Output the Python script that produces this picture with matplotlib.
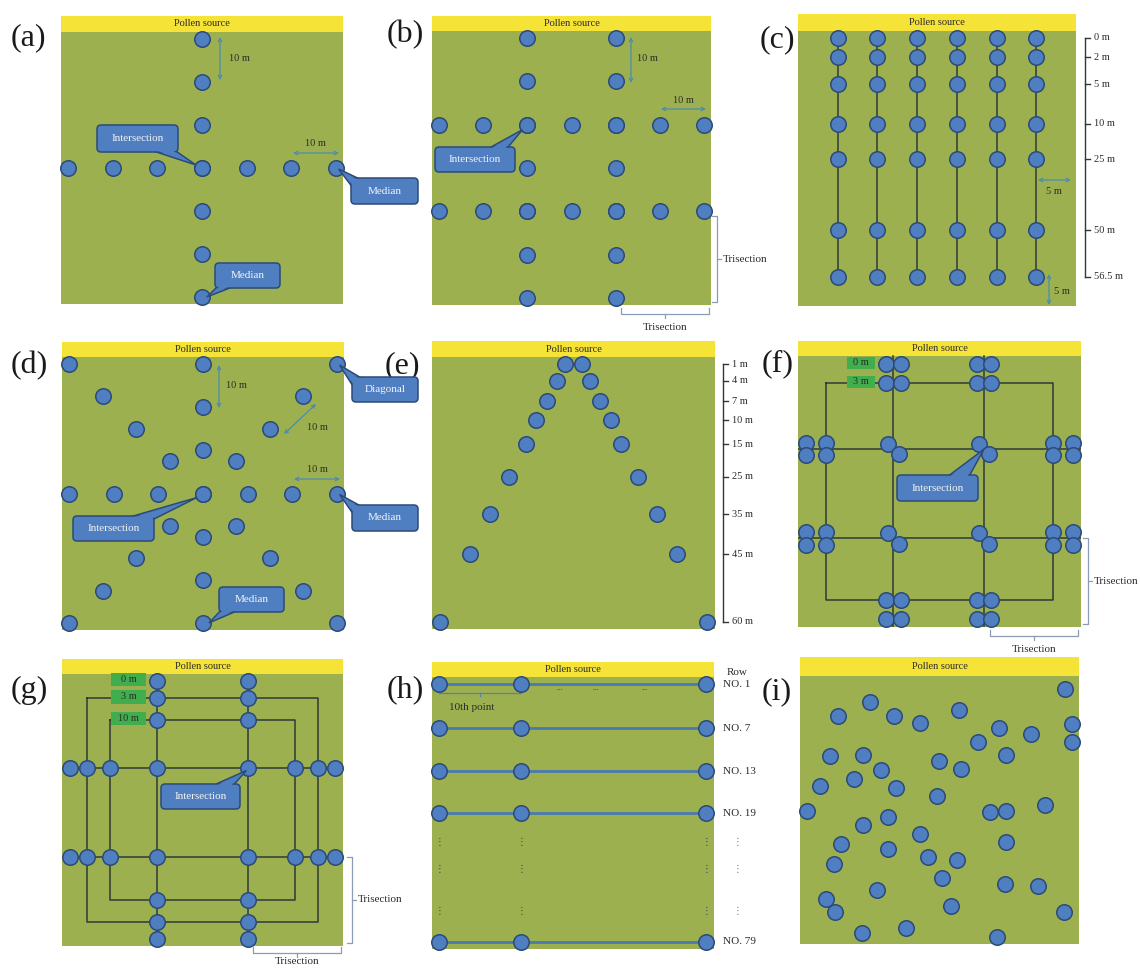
import numpy as np
import matplotlib.pyplot as plt
from matplotlib.patches import Rectangle, FancyBboxPatch, Polygon
from matplotlib.transforms import blended_transform_factory

plt.rcParams['font.family'] = ['Liberation Serif', 'DejaVu Serif', 'DejaVu Sans']

FW, FH = 1140, 969

FIELD = '#9db050'
SOURCE = '#f6e338'
DOT = '#4f7fc0'
DOT_EDGE = '#2c4a78'
WIRE = '#2f3a38'
ROW_LINE = '#4a78b0'
ARROW = '#4a8cb0'
BRACKET = '#8c9db3'
TAG = '#40ae4c'
INK = '#2b2b2b'

# ---- sampling layouts ----
# (a), (b), (d): 10 m grid, metres from the upper-left corner of the field
grid_m = [0, 10, 20, 30, 40, 50, 60]
centre_m = 30
b_lines_m = [20, 40]
d_diag_m = [0, 7.5, 15, 22.5]

# (c): six transects 5 m apart, sampled at fixed distances from the source
c_cols_m = [5, 10, 15, 20, 25, 30]
c_depths = ['0 m', '2 m', '5 m', '10 m', '25 m', '50 m', '56.5 m']
c_depth_pos = [0.024, 0.096, 0.194, 0.338, 0.467, 0.724, 0.893]

# (e): V-shaped pairs opening away from the source
e_dists = ['1 m', '4 m', '7 m', '10 m', '15 m', '25 m', '35 m', '45 m', '60 m']
e_row_pos = [0.026, 0.088, 0.162, 0.232, 0.32, 0.44, 0.578, 0.725, 0.973]
e_half_width = [0.031, 0.058, 0.095, 0.133, 0.168, 0.229, 0.296, 0.367, 0.473]

# (f): trisection lines, paired samples at 0 m and 3 m from the edge
f_tri_x = [0.337, 0.657]
f_tri_y = [0.344, 0.673]
f_rings = ['0 m', '3 m']
f_ring_pos = [0.029, 0.099]

# (g): trisection lines, samples at 0 m, 3 m and 10 m from the edge
g_tri_x = [0.339, 0.663]
g_tri_y = [0.344, 0.674]
g_rings = ['0 m', '3 m', '10 m']
g_ring_pos = [0.027, 0.09, 0.17]

# (h): every 10th point on selected rows
h_rows = ['NO. 1', 'NO. 7', 'NO. 13', 'NO. 19', 'NO. 79']
h_row_pos = [0.026, 0.189, 0.346, 0.501, 0.973]
h_point_pos = [0.026, 0.316, 0.972]
h_skip_pos = [0.606, 0.707, 0.859]

# (i): random sampling
i_x = [0.951, 0.251, 0.571, 0.137, 0.337, 0.431, 0.974, 0.713, 0.827, 0.637,
       0.974, 0.109, 0.225, 0.737, 0.498, 0.289, 0.577, 0.195, 0.071, 0.345,
       0.491, 0.878, 0.024, 0.680, 0.738, 0.314, 0.225, 0.431, 0.146, 0.738,
       0.314, 0.460, 0.564, 0.121, 0.510, 0.736, 0.852, 0.275, 0.094, 0.127,
       0.540, 0.945, 0.221, 0.381, 0.706]
i_y = [0.049, 0.098, 0.127, 0.148, 0.148, 0.177, 0.180, 0.193, 0.218, 0.247,
       0.247, 0.299, 0.296, 0.296, 0.317, 0.351, 0.348, 0.386, 0.409, 0.417,
       0.447, 0.481, 0.504, 0.507, 0.504, 0.525, 0.555, 0.590, 0.626, 0.618,
       0.644, 0.674, 0.687, 0.703, 0.753, 0.776, 0.782, 0.800, 0.831, 0.879,
       0.857, 0.882, 0.960, 0.941, 0.975]

# panel frames in pixels: left, top, right, bottom, bottom of the source bar
BOX = {
    'a': (61, 16, 343, 304, 32),
    'b': (432, 16, 711, 305, 31),
    'c': (798, 14, 1076, 306, 31),
    'd': (62, 342, 344, 630, 357),
    'e': (432, 341, 715, 629, 357),
    'f': (798, 341, 1081, 627, 356),
    'g': (62, 659, 343, 946, 674),
    'h': (432, 662, 714, 949, 677),
    'i': (800, 657, 1079, 944, 676),
}

fig = plt.figure(figsize=(FW / 100, FH / 100), dpi=100)
fig.patch.set_facecolor('white')


def panel(key, xr=(0, 1), yr=(0, 1)):
    left, top, right, bottom, bar = BOX[key]
    ax = fig.add_axes([left / FW, 1 - bottom / FH, (right - left) / FW, (bottom - top) / FH])
    ax.set_axis_off()
    x0, x1 = xr
    y0, y1 = yr
    bar_h = (y1 - y0) * (bar - top) / (bottom - bar)
    ax.set_xlim(x0, x1)
    ax.set_ylim(y1, y0 - bar_h)
    ax.add_patch(Rectangle((x0, y0), x1 - x0, y1 - y0, fc=FIELD, ec='none', zorder=0))
    ax.add_patch(Rectangle((x0, y0 - bar_h), x1 - x0, bar_h, fc=SOURCE, ec='none', zorder=0))
    ax.text((x0 + x1) / 2, y0 - bar_h / 2, 'Pollen source', ha='center', va='center',
            fontsize=7.5, color=INK, zorder=1)
    return ax


def dots(ax, x, y):
    ax.scatter(x, y, s=124, fc=DOT, ec=DOT_EDGE, lw=1.1, zorder=4, clip_on=False)


def tag(ax, text, xc, yc, w, h):
    ax.add_patch(Rectangle((xc - w / 2, yc - h / 2), w, h, fc=TAG, ec='none', zorder=5))
    ax.text(xc, yc, text, ha='center', va='center', fontsize=7.5, color=INK, zorder=6)


grid_span = (-1.65, 61.65)

# (a) cross
ax_a = panel('a', grid_span, grid_span)
dots(ax_a, [centre_m] * len(grid_m), grid_m)
dots(ax_a, grid_m, [centre_m] * len(grid_m))

# (b) trisection grid
ax_b = panel('b', grid_span, grid_span)
for m in b_lines_m:
    dots(ax_b, [m] * len(grid_m), grid_m)
    dots(ax_b, grid_m, [m] * len(grid_m))

# (c) parallel transects
ax_c = panel('c', (0, 35), (0, 1))
for x in c_cols_m:
    ax_c.plot([x, x], [c_depth_pos[0], c_depth_pos[-1]], color=WIRE, lw=1.1, zorder=2)
    dots(ax_c, [x] * len(c_depth_pos), c_depth_pos)

# (d) cross plus diagonals
ax_d = panel('d', grid_span, grid_span)
dots(ax_d, [centre_m] * len(grid_m), grid_m)
dots(ax_d, grid_m, [centre_m] * len(grid_m))
far = grid_m[-1]
for s in d_diag_m:
    dots(ax_d, [s, far - s, s, far - s], [s, s, far - s, far - s])

# (e) V shape
ax_e = panel('e')
dots(ax_e, [0.5 - w for w in e_half_width] + [0.5 + w for w in e_half_width], e_row_pos * 2)

# (f) trisection with paired edge samples
ax_f = panel('f')
for x in f_tri_x:
    ax_f.plot([x, x], [0, 1], color=WIRE, lw=1.1, zorder=2)
for y in f_tri_y:
    ax_f.plot([0, 1], [y, y], color=WIRE, lw=1.1, zorder=2)
r = f_ring_pos[1]
ax_f.plot([r, 1 - r, 1 - r, r, r], [r, r, 1 - r, 1 - r, r], color=WIRE, lw=1.1, zorder=2)
sep_x, sep_y, sep_d = 0.026, 0.023, 0.019
for x in f_tri_x:
    for d in f_ring_pos:
        for y in (d, 1 - d):
            dots(ax_f, [x - sep_x, x + sep_x], [y, y])
for y in f_tri_y:
    for d in f_ring_pos:
        for x in (d, 1 - d):
            dots(ax_f, [x, x], [y - sep_y, y + sep_y])
for x in f_tri_x:
    for y in f_tri_y:
        dots(ax_f, [x - sep_d, x + sep_d], [y - sep_d, y + sep_d])
for lab, d in zip(f_rings, f_ring_pos):
    tag(ax_f, lab, 0.223, d - 0.004, 0.098, 0.045)

# (g) trisection with nested rings
ax_g = panel('g')
for x in g_tri_x:
    ax_g.plot([x, x], [0, 1], color=WIRE, lw=1.1, zorder=2)
for y in g_tri_y:
    ax_g.plot([0, 1], [y, y], color=WIRE, lw=1.1, zorder=2)
for r in g_ring_pos[1:]:
    ax_g.plot([r, 1 - r, 1 - r, r, r], [r, r, 1 - r, 1 - r, r], color=WIRE, lw=1.1, zorder=2)
edge_pos = g_ring_pos + [1 - d for d in reversed(g_ring_pos)]
for x in g_tri_x:
    dots(ax_g, [x] * len(edge_pos), edge_pos)
for y in g_tri_y:
    dots(ax_g, edge_pos, [y] * len(edge_pos))
for x in g_tri_x:
    dots(ax_g, [x, x], g_tri_y)
for lab, d in zip(g_rings, g_ring_pos):
    tag(ax_g, lab, 0.237, d - 0.006, 0.127, 0.049)

# (h) rows
ax_h = panel('h')
for y in h_row_pos:
    ax_h.plot([h_point_pos[0], h_point_pos[-1]], [y, y], color=ROW_LINE, lw=2, zorder=2)
    dots(ax_h, h_point_pos, [y] * len(h_point_pos))
for lab, y in zip(h_rows, h_row_pos):
    ax_h.text(1.032, y, lab, ha='left', va='center', fontsize=8, color=INK, clip_on=False)
ax_h.text(1.045, -0.016, 'Row', ha='left', va='center', fontsize=8, color=INK, clip_on=False)
for y in h_skip_pos:
    for x in h_point_pos:
        ax_h.text(x, y, '⋮', ha='center', va='center', fontsize=7, color='#34465a',
                  family=['DejaVu Sans'])
    ax_h.text(1.085, y, '⋮', ha='center', va='center', fontsize=7, color='#777777',
              family=['DejaVu Sans'], clip_on=False)
for x in [0.454, 0.582, 0.755]:
    ax_h.text(x, h_row_pos[0] + 0.014, '...', ha='center', va='center', fontsize=6,
              color='#34465a')
b0, b1 = h_point_pos[0], h_point_pos[1]
yb = h_row_pos[0] + 0.022
ax_h.plot([b0, b0, b1, b1], [yb, yb + 0.012, yb + 0.012, yb], color='#5a7fa8', lw=0.9, zorder=3)
ax_h.plot([(b0 + b1) / 2] * 2, [yb + 0.012, yb + 0.022], color='#5a7fa8', lw=0.9, zorder=3)
ax_h.text(0.141, 0.113, '10th point', ha='center', va='center', fontsize=8, color=INK)

# (i) random
ax_i = panel('i')
dots(ax_i, i_x, i_y)

# ---- overlay for labels, arrows, brackets and callouts (pixel units) ----
ov = fig.add_axes([0, 0, 1, 1])
ov.set_xlim(0, FW)
ov.set_ylim(FH, 0)
ov.set_axis_off()


def px(ax, x, y):
    disp = ax.transData.transform((x, y))
    return ov.transData.inverted().transform(disp)


def inset(tri, d):
    p = np.array(tri, float)
    c = p.mean(axis=0)
    lines = []
    for k in range(3):
        a, b = p[k], p[(k + 1) % 3]
        t = (b - a) / np.linalg.norm(b - a)
        n = np.array([-t[1], t[0]])
        if np.dot(c - a, n) < 0:
            n = -n
        lines.append((a + n * d, t))
    pts = []
    for k in range(3):
        (a1, t1), (a2, t2) = lines[k - 1], lines[k]
        s, _ = np.linalg.solve(np.array([t1, -t2]).T, a2 - a1)
        pts.append(a1 + s * t1)
    return pts


def callout(text, box, base, tip):
    x0, y0, x1, y1 = box
    wedge = [base[0], base[1], tuple(tip)]
    ov.add_patch(Polygon(wedge, closed=True, fc=DOT, ec=DOT_EDGE, lw=1.1, zorder=5))
    ov.add_patch(FancyBboxPatch((x0, y0), x1 - x0, y1 - y0,
                                boxstyle='round,pad=0,rounding_size=4',
                                fc=DOT, ec=DOT_EDGE, lw=1.1, zorder=6))
    ov.add_patch(Polygon(inset(wedge, 1.4), closed=True, fc=DOT, ec='none', zorder=7))
    ov.text((x0 + x1) / 2, (y0 + y1) / 2, text, ha='center', va='center',
            fontsize=8, color='#f4f4f4', zorder=8)


def span_arrow(p0, p1):
    ov.annotate('', xy=p1, xytext=p0,
                arrowprops=dict(arrowstyle='<->', color=ARROW, lw=0.9,
                                mutation_scale=6, shrinkA=0, shrinkB=0))


def label(x, y, text, ha='center', size=7.5):
    ov.text(x, y, text, ha=ha, va='center', fontsize=size, color=INK)


def bracket_right(x, y0, y1, text):
    ov.plot([x - 5, x, x, x - 5], [y0, y0, y1, y1], color=BRACKET, lw=0.9)
    ym = (y0 + y1) / 2
    ov.plot([x, x + 4], [ym, ym], color=BRACKET, lw=0.9)
    label(x + 6, ym, text, ha='left', size=8)


def bracket_down(y, x0, x1, text, gap=13):
    ov.plot([x0, x0, x1, x1], [y - 6, y, y, y - 6], color=BRACKET, lw=0.9)
    xm = (x0 + x1) / 2
    ov.plot([xm, xm], [y, y + 4], color=BRACKET, lw=0.9)
    label(xm, y + gap, text, size=8)


# panel letters
for key, (x, y) in {'a': (11, 38), 'b': (387, 35), 'c': (760, 40), 'd': (11, 366),
                    'e': (385, 366), 'f': (762, 364), 'g': (11, 690), 'h': (387, 690),
                    'i': (762, 692)}.items():
    ov.text(x, y, f'({key})', ha='left', va='center', fontsize=23, color='#1a1a1a')

# distance arrows
span_arrow((220, 37), (220, 80))
label(239, 58, '10 m')
span_arrow((293, 153), (339, 153))
label(315, 143, '10 m')

span_arrow((631, 37), (631, 83))
label(647, 58, '10 m')
span_arrow((661, 109), (706, 109))
label(683, 100, '10 m')

span_arrow((1038, 180), (1071, 180))
label(1054, 191, '5 m')
span_arrow((1049, 274), (1049, 305))
label(1062, 292, '5 m')

span_arrow((219, 365), (219, 408))
label(236, 386, '10 m')
span_arrow((284, 434), (316, 404))
label(317, 427, '10 m')
span_arrow((294, 479), (340, 479))
label(317, 469, '10 m')

# distance scales beside (c) and (e)
for ax, xs, pos, labs in [(ax_c, 1085, c_depth_pos, c_depths), (ax_e, 723, e_row_pos, e_dists)]:
    tr = blended_transform_factory(ov.transData, ax.transData)
    ov.plot([xs, xs], [pos[0], pos[-1]], transform=tr, color=WIRE, lw=1.0)
    for y, lab in zip(pos, labs):
        ov.plot([xs, xs + 5], [y, y], transform=tr, color=WIRE, lw=1.0)
        ov.text(xs + 9, y, lab, transform=tr, ha='left', va='center', fontsize=7.5, color=INK)

# trisection brackets
bracket_right(717, 216, 302, 'Trisection')
bracket_down(314, 621, 709, 'Trisection')
bracket_right(1088, 538, 624, 'Trisection')
bracket_down(636, 990, 1078, 'Trisection')
bracket_right(352, 857, 943, 'Trisection')
bracket_down(953, 253, 341, 'Trisection', gap=9)

# callouts
tip = px(ax_a, centre_m, centre_m) + (-6, -3)
callout('Intersection', (97, 125, 178, 152), [(141, 147), (170, 147)], tip)
tip = px(ax_a, grid_m[-1], centre_m) + (3, 1)
callout('Median', (351, 178, 418, 204), [(368, 183), (356, 192)], tip)
tip = px(ax_a, centre_m, grid_m[-1]) + (5, 0)
callout('Median', (215, 263, 280, 288), [(220, 284), (240, 284)], tip)

tip = px(ax_b, b_lines_m[0], b_lines_m[0]) + (-5, 5)
callout('Intersection', (435, 147, 515, 172), [(482, 152), (504, 152)], tip)

tip = px(ax_d, centre_m, centre_m) + (-6, 4)
callout('Intersection', (73, 516, 154, 541), [(116, 521), (150, 521)], tip)
tip = px(ax_d, centre_m, grid_m[-1]) + (6, 0)
callout('Median', (219, 587, 284, 612), [(224, 607), (246, 607)], tip)
tip = px(ax_d, grid_m[-1], grid_m[0]) + (3, 1)
callout('Diagonal', (352, 377, 418, 402), [(368, 382), (356, 391)], tip)
tip = px(ax_d, grid_m[-1], centre_m) + (3, 1)
callout('Median', (352, 505, 418, 531), [(368, 510), (356, 518)], tip)

tip = px(ax_f, f_tri_x[1], f_tri_y[0])
callout('Intersection', (897, 475, 978, 501), [(943, 480), (967, 480)], tip)
tip = px(ax_g, g_tri_x[1], g_tri_y[0]) + (-2, 3)
callout('Intersection', (161, 784, 240, 809), [(205, 789), (230, 789)], tip)

fig.savefig('out.png', dpi=100)
